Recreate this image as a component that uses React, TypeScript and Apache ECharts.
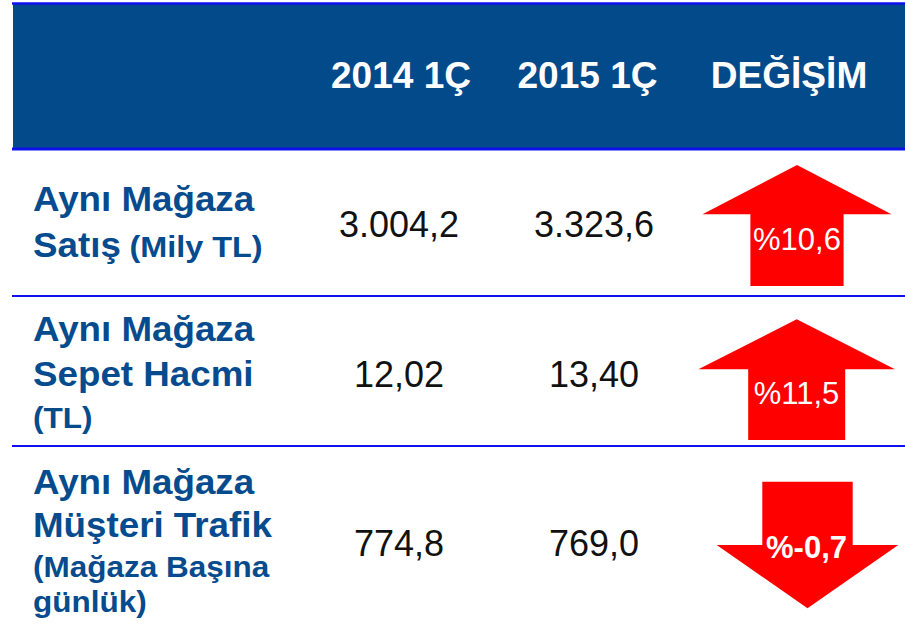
import React, { useEffect, useRef } from "react";
import * as echarts from "echarts";

// ---- data ----
const headers = ["2014 1Ç", "2015 1Ç", "DEĞİŞİM"];
const labelMain = [
  ["Aynı Mağaza", "Satış"],
  ["Aynı Mağaza", "Sepet Hacmi"],
  ["Aynı Mağaza", "Müşteri Trafik"],
];
const labelSub = [["(Mily TL)"], ["(TL)"], ["(Mağaza Başına", "günlük)"]];
const values2014 = ["3.004,2", "12,02", "774,8"];
const values2015 = ["3.323,6", "13,40", "769,0"];
const changePct = [10.6, 11.5, -0.7];

// ---- layout / style ----
const FONT = "'Liberation Sans', Arial, sans-serif";
const NAVY = "#064B8D";
const HEADER_FILL = "#034A8B";
const LINE_BLUE = "#1010EE";
const RED = "#FF0000";
const BIG = 35;
const BIG_SX = 1.05;
const SMALL = 30;
const SMALL_SX = 1.05;
const VAL = 36;
const HEAD = 36;
const HEAD_SX = 1.03;
const ARW = 31;

const labelX = 33;
const inlineGap = 3;
const mainY = [
  [199.5, 245],
  [329.5, 374],
  [482.5, 525],
];
const subPos = [
  [{ inline: true, y: 245 }],
  [{ inline: false, y: 418 }],
  [
    { inline: false, y: 567 },
    { inline: false, y: 602 },
  ],
];
const headerX = [401, 587.5, 789];
const headerY = 76;
const valueX = [399, 594];
const valueY = [224, 374, 543];
const arrowTextX = [797, 796.5, 806.5];
const arrowTextY = [239, 393, 547];
const arrowGeo = [
  { cx: 797, a: 165, b: 214.3, c: 286, hh: 94.5, hs: 46.6 },
  { cx: 796.7, a: 319.3, b: 369.3, c: 440, hh: 98.3, hs: 48.5 },
  { cx: 807.5, a: 481.7, b: 545, c: 608.3, hh: 90.8, hs: 45.2 },
];

function measure(text: string, size: number, bold: boolean) {
  const c = document.createElement("canvas").getContext("2d")!;
  c.font = `${bold ? "bold " : ""}${size}px ${FONT}`;
  return c.measureText(text).width;
}

function txt(
  text: string,
  x: number,
  y: number,
  size: number,
  color: string,
  bold: boolean,
  align: string,
  sx = 1
) {
  return {
    type: "text",
    x,
    y,
    scaleX: sx,
    z: 10,
    silent: true,
    style: {
      text,
      fill: color,
      font: `${bold ? "bold " : ""}${size}px ${FONT}`,
      textAlign: align,
      textVerticalAlign: "middle",
    },
  };
}

function fmtPct(v: number) {
  return "%" + v.toFixed(1).replace(".", ",");
}

export default function App() {
  const ref = useRef<HTMLDivElement>(null);
  useEffect(() => {
    if (!ref.current) return;
    const chart = echarts.init(ref.current, null, { renderer: "svg" });
    const els: any[] = [];
    // header
    els.push({ type: "rect", shape: { x: 13, y: 3.5, width: 892, height: 145.5 }, style: { fill: HEADER_FILL }, z: 1 });
    els.push({ type: "line", shape: { x1: 12, y1: 3.5, x2: 905, y2: 3.5 }, style: { stroke: LINE_BLUE, lineWidth: 2.5 }, z: 2 });
    els.push({ type: "line", shape: { x1: 12, y1: 149, x2: 905, y2: 149 }, style: { stroke: LINE_BLUE, lineWidth: 3 }, z: 2 });
    [296, 446].forEach((y) =>
      els.push({ type: "line", shape: { x1: 12, y1: y, x2: 905, y2: y }, style: { stroke: LINE_BLUE, lineWidth: 2 }, z: 2 })
    );
    headers.forEach((h, i) => els.push(txt(h, headerX[i], headerY, HEAD, "#FFFFFF", true, "center", HEAD_SX)));

    // rows
    labelMain.forEach((lines, r) => {
      lines.forEach((l, k) => els.push(txt(l, labelX, mainY[r][k], BIG, NAVY, true, "left", BIG_SX)));
      labelSub[r].forEach((s, k) => {
        const p = subPos[r][k];
        if (p.inline) {
          const last = lines[lines.length - 1];
          const w = measure(last + " ", BIG, true) + inlineGap;
          const dy = 0.3465 * (BIG - SMALL);
          els.push(txt(s, labelX + w, p.y + dy, SMALL, NAVY, true, "left", 1.08));
        } else {
          els.push(txt(s, labelX, p.y, SMALL, NAVY, true, "left", SMALL_SX));
        }
      });
      els.push(txt(values2014[r], valueX[0], valueY[r], VAL, "#111111", false, "center"));
      els.push(txt(values2015[r], valueX[1], valueY[r], VAL, "#111111", false, "center"));

      const g = arrowGeo[r];
      const up = changePct[r] >= 0;
      const pts = up
        ? [
            [g.cx, g.a],
            [g.cx + g.hh, g.b],
            [g.cx + g.hs, g.b],
            [g.cx + g.hs, g.c],
            [g.cx - g.hs, g.c],
            [g.cx - g.hs, g.b],
            [g.cx - g.hh, g.b],
          ]
        : [
            [g.cx - g.hs, g.a],
            [g.cx + g.hs, g.a],
            [g.cx + g.hs, g.b],
            [g.cx + g.hh, g.b],
            [g.cx, g.c],
            [g.cx - g.hh, g.b],
            [g.cx - g.hs, g.b],
          ];
      els.push({ type: "polygon", shape: { points: pts }, style: { fill: RED }, z: 5 });
      els.push(txt(fmtPct(changePct[r]), arrowTextX[r], arrowTextY[r], ARW, "#FFFFFF", !up, "center"));
    });

    chart.setOption({
      animation: false,
      backgroundColor: "#FFFFFF",
      graphic: { elements: els },
    });
    return () => chart.dispose();
  }, []);
  return (
    <div
      ref={ref}
      style={{ position: "fixed", left: 0, top: 0, width: 905, height: 632, background: "#fff" }}
    />
  );
}
